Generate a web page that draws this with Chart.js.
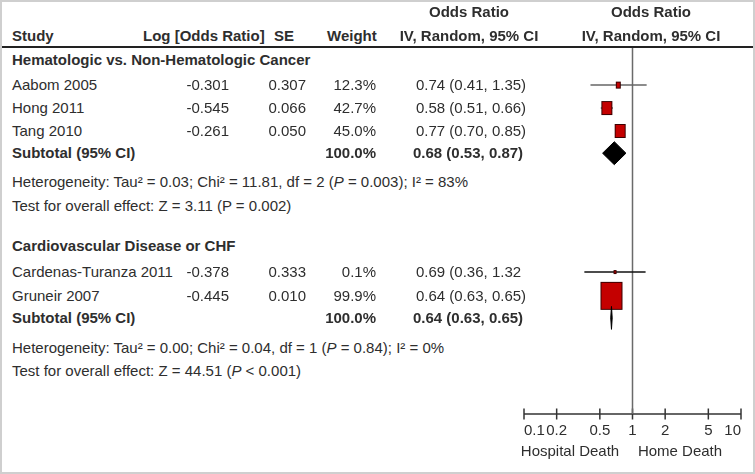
<!DOCTYPE html>
<html><head><meta charset="utf-8">
<script src="https://cdn.jsdelivr.net/npm/chart.js@4.4.1/dist/chart.umd.min.js"></script>
<style>
html,body{margin:0;padding:0;background:#fff;}
#frame{position:relative;width:755px;height:474px;overflow:hidden;font-family:"Liberation Sans",Arial,sans-serif;font-size:15px;color:#2e2e2e;background:#fff;}
#border{position:absolute;left:0;top:0;width:755px;height:474px;box-sizing:border-box;border:2px solid #cfcfcf;pointer-events:none;}
#cv{position:absolute;left:500px;top:0;}
.t{position:absolute;white-space:nowrap;line-height:18px;}
.b{font-weight:bold;}
#hline{position:absolute;left:2px;top:46px;width:751px;height:2px;background:#222;}
</style>
</head><body>
<div id="frame">
  <canvas id="cv" width="255" height="474"></canvas>
  <div id="hline"></div>
  <div id="txt"></div>
  <div id="border"></div>
</div>
<script>
// ---- data ----
const groupTitles = ['Hematologic vs. Non-Hematologic Cancer', 'Cardiovascular Disease or CHF'];
const studyNames = ['Aabom 2005', 'Hong 2011', 'Tang 2010', 'Cardenas-Turanza 2011', 'Gruneir 2007'];
const studyGroup = [0, 0, 0, 1, 1];
const logOR = [-0.301, -0.545, -0.261, -0.378, -0.445];
const seVals = [0.307, 0.066, 0.050, 0.333, 0.010];
const weights = [12.3, 42.7, 45.0, 0.1, 99.9];
const orEst = [0.74, 0.58, 0.77, 0.69, 0.64];
const orLow = [0.41, 0.51, 0.70, 0.36, 0.63];
const orHigh = [1.35, 0.66, 0.85, 1.32, 0.65];
const subWeight = [100.0, 100.0];
const subEst = [0.68, 0.64];
const subLow = [0.53, 0.63];
const subHigh = [0.87, 0.65];
const hetTexts = [
  'Heterogeneity: Tau² = 0.03; Chi² = 11.81, df = 2 (<i>P</i> = 0.003); I² = 83%',
  'Heterogeneity: Tau² = 0.00; Chi² = 0.04, df = 1 (<i>P</i> = 0.84); I² = 0%'
];
const testTexts = [
  'Test for overall effect: Z = 3.11 (P = 0.002)',
  'Test for overall effect: Z = 44.51 (<i>P</i> &lt; 0.001)'
];
const tickValues = [0.1, 0.2, 0.5, 1, 2, 5, 10];
const tickLabels = ['0.1', '0.2', '0.5', '1', '2', '5', '10'];
const axisSideLabels = ['Hospital Death', 'Home Death'];

// ---- layout (row positions in row units on the y scale) ----
const Y_MAX = 16;
const titleRow = [0.57, 8.67];
const studyRow = [1.66, 2.66, 3.66, 9.81, 10.85];
const subRow = [4.63, 11.81];
const hetRow = [5.88, 13.12];
const testRow = [6.93, 14.12];
const DIAMOND_HALF = 0.5;

function fmtOR(e, l, h) { return e.toFixed(2) + ' (' + l.toFixed(2) + ', ' + h.toFixed(2) + ')'; }
const orTexts = orEst.map((e, i) => fmtOR(e, orLow[i], orHigh[i]));
orTexts[3] = orTexts[3].slice(0, -1); // closing parenthesis missing in the source figure

function boxImg(w, h) {
  const c = document.createElement('canvas');
  const W = Math.round(w) + 2, H = Math.round(h) + 2;
  c.width = W; c.height = H;
  const g = c.getContext('2d');
  g.fillStyle = '#c40000';
  g.fillRect(1, 1, W - 2, H - 2);
  g.strokeStyle = '#3d0000';
  g.lineWidth = 1;
  g.strokeRect(1.5, 1.5, W - 3, H - 3);
  return c;
}
const boxes = weights.map(w => { const s = 3 + 0.187 * w; return boxImg(s, s * 1.27); });

const datasets = [];
// null line at OR = 1
datasets.push({type: 'line', data: [{x: 1, y: 0}, {x: 1, y: Y_MAX}], borderColor: '#6a6a6a', borderWidth: 1.5, pointRadius: 0, clip: false, order: 5});
// axis line + ticks
datasets.push({type: 'line', data: [{x: tickValues[0], y: Y_MAX}, {x: tickValues[tickValues.length - 1], y: Y_MAX}], borderColor: '#333', borderWidth: 1.5, pointRadius: 0, clip: false, order: 5});
datasets.push({type: 'scatter', data: tickValues.map(v => ({x: v, y: Y_MAX})), pointStyle: 'line', rotation: 90, radius: 5.5, borderColor: '#333', borderWidth: 1.5, clip: false, order: 5});
// CI lines
studyNames.forEach((n, i) => {
  datasets.push({type: 'line', data: [{x: orLow[i], y: studyRow[i]}, {x: orHigh[i], y: studyRow[i]}],
    borderColor: studyGroup[i] === 0 ? '#666' : '#111', borderWidth: 1.5, pointRadius: 0, order: 3});
});
// squares
datasets.push({type: 'scatter', data: orEst.map((e, i) => ({x: e, y: studyRow[i]})), pointStyle: boxes, order: 2});
// diamonds
subEst.forEach((e, g) => {
  const y = subRow[g];
  datasets.push({type: 'line', data: [{x: subLow[g], y: y}, {x: e, y: y - DIAMOND_HALF}, {x: subHigh[g], y: y}, {x: e, y: y + DIAMOND_HALF}, {x: subLow[g], y: y}],
    borderColor: '#000', backgroundColor: '#000', borderWidth: 1, fill: 'shape', pointRadius: 0, tension: 0, order: 1});
});

const FONT = '"Liberation Sans", Arial, sans-serif';
const chart = new Chart(document.getElementById('cv'), {
  type: 'scatter',
  data: {datasets},
  options: {
    responsive: false, animation: false, devicePixelRatio: 1,
    layout: {padding: {left: 24, right: 14, top: 47, bottom: 30}},
    plugins: {legend: {display: false}, tooltip: {enabled: false}},
    scales: {
      x: {type: 'logarithmic', min: 0.1, max: 10, position: 'bottom',
        afterBuildTicks: s => { s.ticks = tickValues.map(v => ({value: v})); },
        afterFit: s => { s.height = 30; },
        grid: {display: false, drawTicks: false}, border: {display: false},
        ticks: {autoSkip: false, maxRotation: 0, minRotation: 0, padding: 8, align: 'inner', color: '#2e2e2e',
          font: {family: FONT, size: 15},
          callback: v => { const i = tickValues.findIndex(t => Math.abs(t - v) < 1e-9); return i >= 0 ? tickLabels[i] : ''; }}
      },
      y: {type: 'linear', min: 0, max: Y_MAX, reverse: true, display: false}
    }
  }
});

// ---- table text ----
const txt = document.getElementById('txt');
const yPix = v => chart.scales.y.getPixelForValue(v);
function put(html, y, opts) {
  const d = document.createElement('div');
  d.className = 't' + (opts.bold ? ' b' : '');
  d.innerHTML = html;
  d.style.top = (y - 9) + 'px';
  if (opts.left !== undefined) d.style.left = opts.left + 'px';
  if (opts.right !== undefined) d.style.right = (755 - opts.right) + 'px';
  if (opts.center !== undefined) { d.style.left = opts.center + 'px'; d.style.transform = 'translateX(-50%)'; }
  txt.appendChild(d);
}
// headers
put('Study', 36, {left: 12, bold: true});
put('Log [Odds Ratio]', 36, {left: 143, bold: true});
put('SE', 36, {left: 274, bold: true});
put('Weight', 36, {left: 327, bold: true});
put('Odds Ratio', 12, {center: 469, bold: true});
put('IV, Random, 95% CI', 36, {center: 469, bold: true});
put('Odds Ratio', 12, {center: 651, bold: true});
put('IV, Random, 95% CI', 36, {center: 651, bold: true});
// groups
groupTitles.forEach((t, g) => {
  put(t, yPix(titleRow[g]), {left: 12, bold: true});
  put('Subtotal (95% CI)', yPix(subRow[g]), {left: 12, bold: true});
  put(subWeight[g].toFixed(1) + '%', yPix(subRow[g]), {right: 376, bold: true});
  put(fmtOR(subEst[g], subLow[g], subHigh[g]), yPix(subRow[g]), {left: 413, bold: true});
  put(hetTexts[g], yPix(hetRow[g]), {left: 12});
  put(testTexts[g], yPix(testRow[g]), {left: 12});
});
studyNames.forEach((n, i) => {
  const y = yPix(studyRow[i]);
  put(n, y, {left: 12});
  put(logOR[i].toFixed(3), y, {right: 229});
  put(seVals[i].toFixed(3), y, {right: 306});
  put(weights[i].toFixed(1) + '%', y, {right: 376});
  put(orTexts[i], y, {left: 416});
});
// axis side labels
put(axisSideLabels[0], 451, {center: 570});
put(axisSideLabels[1], 451, {center: 680});
</script>
</body></html>
